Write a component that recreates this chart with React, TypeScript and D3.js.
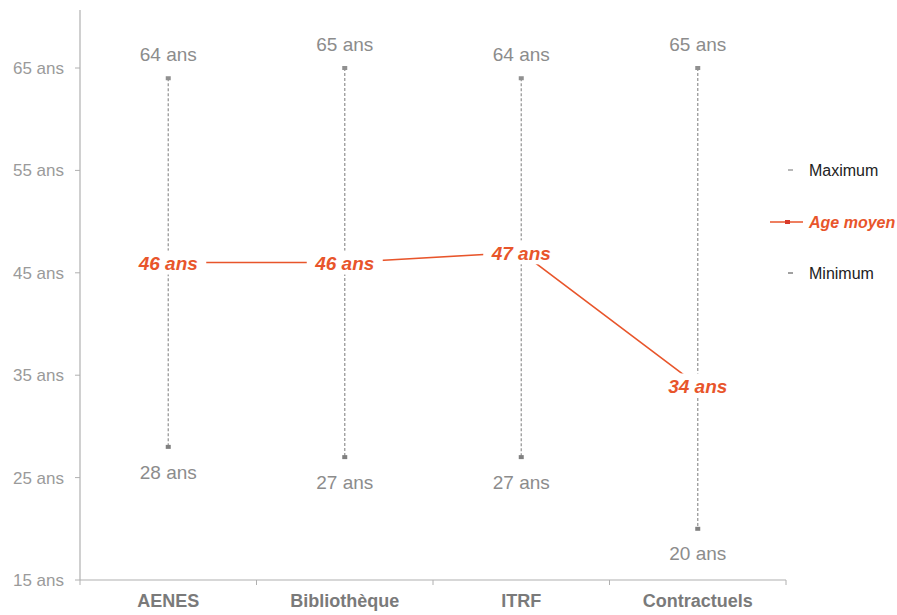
import React from "react";
import * as d3 from "d3";

const categories = ["AENES", "Bibliothèque", "ITRF", "Contractuels"];
const maxValues = [64, 65, 64, 65];
const meanValues = [46, 46, 47, 34];
const minValues = [28, 27, 27, 20];
const yTicks = [15, 25, 35, 45, 55, 65];

const W = 897;
const H = 615;
const left = 80;
const right = 786;
const top = 10;
const bottom = 580;

export default function App() {
  const x = d3.scaleBand<string>().domain(categories).range([left, right]).padding(0);
  const y = d3.scaleLinear().domain([15, 65]).range([bottom, 68]);
  const cx = (i: number) => (x(categories[i]) as number) + x.bandwidth() / 2;
  const orange = "#e8552b";
  const font = "'Liberation Sans', Arial, sans-serif";
  const line = d3
    .line<number>()
    .x((_, i) => cx(i))
    .y((d) => y(d));

  const boundaries = [left, ...categories.map((c) => (x(c) as number) + x.bandwidth())];

  return (
    <svg width={W} height={H} style={{ position: "absolute", left: 0, top: 0 }} fontFamily={font}>
      <rect width={W} height={H} fill="#fff" />
      {/* y axis */}
      <line x1={left} x2={left} y1={top} y2={bottom} stroke="#b0b0b0" strokeWidth={1.2} />
      {yTicks.map((t) => (
        <g key={t}>
          <line x1={left - 5} x2={left} y1={y(t)} y2={y(t)} stroke="#b0b0b0" />
          <text x={left - 16} y={y(t)} dy="0.35em" textAnchor="end" fontSize={17} fill="#9a9a9a">
            {t} ans
          </text>
        </g>
      ))}
      {/* x axis */}
      <line x1={left} x2={right} y1={bottom} y2={bottom} stroke="#b0b0b0" strokeWidth={1.2} />
      {boundaries.map((b, i) => (
        <line key={i} x1={b} x2={b} y1={bottom} y2={bottom + 5} stroke="#b0b0b0" />
      ))}
      {categories.map((c, i) => (
        <text key={c} x={cx(i)} y={bottom + 27} textAnchor="middle" fontSize={18} fontWeight="bold" fill="#7a7a7a">
          {c}
        </text>
      ))}
      {/* range lines */}
      {categories.map((c, i) => (
        <g key={c}>
          <line
            x1={cx(i)}
            x2={cx(i)}
            y1={y(maxValues[i])}
            y2={y(minValues[i])}
            stroke="#9a9a9a"
            strokeWidth={1.3}
            strokeDasharray="3,2"
          />
          <rect x={cx(i) - 2.5} y={y(maxValues[i]) - 2} width={5} height={4} fill="#909090" />
          <rect x={cx(i) - 2.5} y={y(minValues[i]) - 2} width={5} height={4} fill="#808080" />
          <text x={cx(i)} y={y(maxValues[i]) - 24} dy="0.35em" textAnchor="middle" fontSize={19} fill="#8c8c8c">
            {maxValues[i]} ans
          </text>
          <text x={cx(i)} y={y(minValues[i]) + 25} dy="0.35em" textAnchor="middle" fontSize={19} fill="#8c8c8c">
            {minValues[i]} ans
          </text>
        </g>
      ))}
      {/* mean line */}
      <path d={line(meanValues) || ""} fill="none" stroke={orange} strokeWidth={1.6} />
      {meanValues.map((v, i) => (
        <g key={i}>
          <rect x={cx(i) - 38} y={y(v) - 12} width={76} height={24} fill="#fff" />
          <text
            x={cx(i)}
            y={y(v) + 1}
            dy="0.35em"
            textAnchor="middle"
            fontSize={19}
            fontWeight="bold"
            fontStyle="italic"
            fill={orange}
          >
            {v} ans
          </text>
        </g>
      ))}
      {/* legend */}
      <g fontSize={16} fill="#222">
        <line x1={788} x2={793} y1={170} y2={170} stroke="#a0a0a0" strokeWidth={1.5} />
        <text x={809} y={170} dy="0.35em" fill="#222">Maximum</text>
        <line x1={770} x2={803} y1={222} y2={222} stroke={orange} strokeWidth={1.5} />
        <rect x={785} y={220} width={5} height={4} fill="#d93a2a" />
        <text x={809} y={222} dy="0.35em" fill={orange} fontStyle="italic" fontWeight="bold">Age moyen</text>
        <line x1={788} x2={793} y1={273} y2={273} stroke="#808080" strokeWidth={1.5} />
        <text x={809} y={273} dy="0.35em" fill="#222">Minimum</text>
      </g>
    </svg>
  );
}
